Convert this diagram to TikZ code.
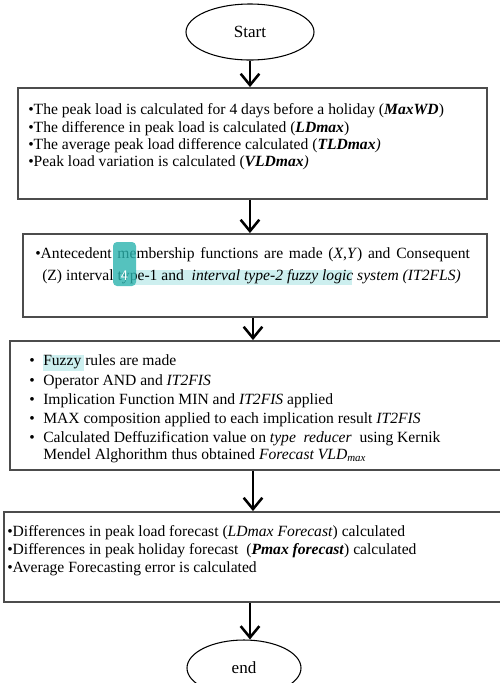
\documentclass[tikz,border=0pt]{standalone}
\usepackage{fontspec}
\setmainfont{Liberation Serif}
\usetikzlibrary{arrows.meta,shapes.geometric}
\definecolor{hl}{HTML}{CDEFEF}
\definecolor{badge}{HTML}{2BB3AE}
\begin{document}
\begin{tikzpicture}[x=0.75pt,y=-0.75pt,
  boxst/.style={draw=black!70,line width=1.4pt,rectangle,inner sep=0pt},
  term/.style={draw,ellipse,line width=0.8pt,inner sep=0pt,font=\fontsize{12.8}{14}\selectfont},
  arr/.style={line width=1.9pt,-{Straight Barb[length=8.5pt,width=14pt,line width=1.9pt]}},
  ln/.style={anchor=base west,inner sep=0pt,font=\fontsize{11.7}{13}\selectfont},
  hlbox/.style={fill=hl,draw=none},
]
\useasboundingbox (0,0) rectangle (500,683);
% terminals
\node[term,minimum width=96pt,minimum height=42pt] (start) at (250,32) {Start};
\node[term,minimum width=85.5pt,minimum height=42pt] (end) at (244,668) {end};
% boxes
\node[boxst,minimum width=351.75pt,minimum height=83.25pt] (box1) at (252.5,143.5) {};
\node[boxst,minimum width=348pt,minimum height=62.25pt] (box2) at (255,275.5) {};
\node[boxst,minimum width=370.5pt,minimum height=96.75pt] (box3) at (257,405.5) {};
\node[boxst,minimum width=375pt,minimum height=67.5pt] (box4) at (254,557) {};
% box1 text
\node[ln] (l1a) at (28,114) {\textbullet The peak load is calculated for 4 days before a holiday (\textbf{\textit{MaxWD}})};
\node[ln] (l1b) at (28,132) {\textbullet The difference in peak load is calculated (\textbf{\textit{LDmax}})};
\node[ln] (l1c) at (28,149) {\textbullet The average peak load difference calculated (\textbf{\textit{TLDmax}}\textit{)}};
\node[ln] (l1d) at (28,166) {\textbullet Peak load variation is calculated (\textbf{\textit{VLDmax}}\textit{)}};
% box2 text
\path[hlbox] (135,270) rectangle (352,285);
\node[ln] (l2a) at (35,258) {\makebox[326pt][s]{\textbullet Antecedent membership functions are made (\textit{X},\textit{Y}) and Consequent}};
\node[ln] (l2b) at (42,280) {(Z) interval type-1 and \ \textit{interval type-2 fuzzy logic system (IT2FLS)}};
\node[fill=badge,opacity=0.8,rounded corners=3pt,minimum width=17.25pt,minimum height=33pt,inner sep=0pt] (badge) at (124.5,264) {};
\node[text=white,inner sep=0pt,font=\sffamily\fontsize{11}{13}\selectfont] (badgetxt) at (124.5,276) {4};
% box3 text
\path[hlbox] (43,355) rectangle (84,371);
\node[ln] (b3a) at (29,365) {\textbullet};
\node[ln] (l3a) at (43,365) {Fuzzy rules are made};
\node[ln] (b3b) at (29,385) {\textbullet};
\node[ln] (l3b) at (43,385) {Operator AND and \textit{IT2FIS}};
\node[ln] (b3c) at (29,404) {\textbullet};
\node[ln] (l3c) at (43,404) {Implication Function MIN and \textit{IT2FIS} applied};
\node[ln] (b3d) at (29,423) {\textbullet};
\node[ln] (l3d) at (43,423) {MAX composition applied to each implication result \textit{IT2FIS}};
\node[ln] (b3e) at (29,442) {\textbullet};
\node[ln] (l3e) at (43,442) {Calculated Deffuzification value on \textit{type \ reducer} \ using Kernik};
\node[ln] (l3f) at (43,459) {Mendel Alghorithm thus obtained \textit{Forecast VLD}\textsubscript{\textit{max}}};
% box4 text
\node[ln] (l4a) at (7,536) {\textbullet Differences in peak load forecast (\textit{LDmax Forecast}) calculated};
\node[ln] (l4b) at (7,554) {\textbullet Differences in peak holiday forecast \ (\textbf{\textit{Pmax forecast}}) calculated};
\node[ln] (l4c) at (7,572) {\textbullet Average Forecasting error is calculated};
% connectors
\draw[arr] (start.south) -- (start.south |- box1.north);
\draw[arr] ([xshift=-1.9pt]box1.south) -- ([xshift=-1.9pt]box1.south |- box2.north);
\draw[arr] ([xshift=-1.5pt]box2.south) -- ([xshift=-1.5pt]box2.south |- box3.north);
\draw[arr] ([xshift=-3pt]box3.south) -- ([xshift=-3pt]box3.south |- box4.north);
\draw[arr] ([xshift=-3pt]box4.south) -- ([xshift=-3pt]box4.south |- end.north);
\end{tikzpicture}
\end{document}
